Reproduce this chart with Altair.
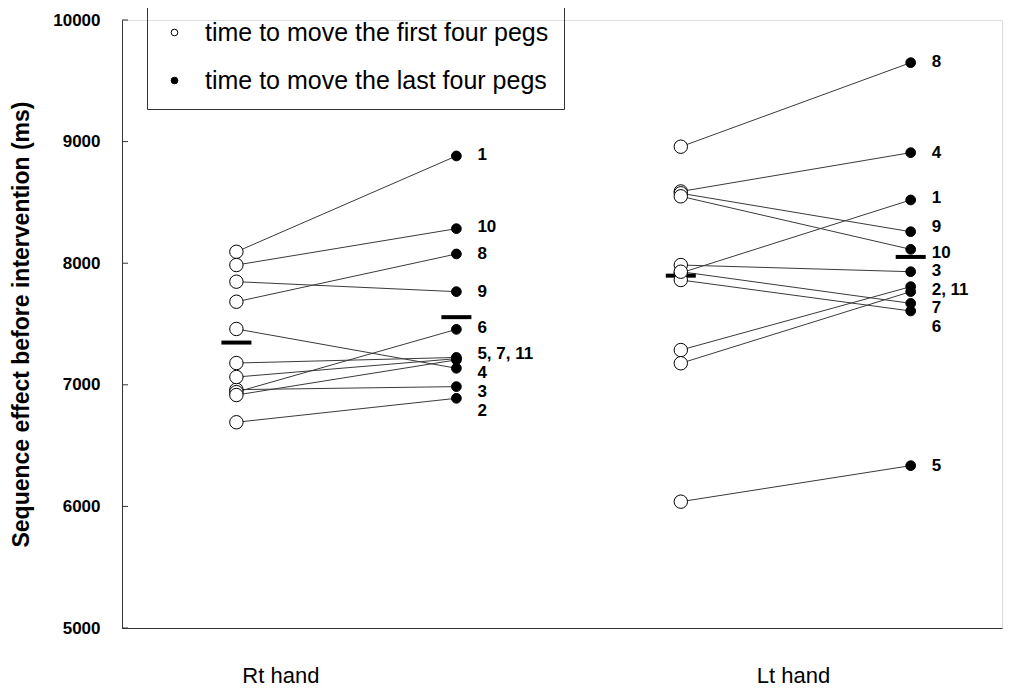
import altair as alt
import pandas as pd

# ---- data ----
subjects = ["1", "2", "3", "4", "5", "6", "7", "8", "9", "10", "11"]
rt_first = [8094, 6692, 6960, 7459, 7179, 6940, 7064, 7683, 7848, 7985, 6916]
rt_last = [8882, 6889, 6985, 7136, 7225, 7456, 7215, 8076, 7766, 8284, 7205]
lt_first = [7920, 7286, 7985, 8590, 6039, 7862, 7930, 8958, 8575, 8550, 7177]
lt_last = [8520, 7807, 7930, 8909, 6335, 7607, 7670, 9649, 8259, 8114, 7766]

# condition positions along the x scale
conditions = ["Rt first", "Rt last", "Lt first", "Lt last"]
cond_x = [1.0, 2.0, 3.02, 4.065]
hand_labels = ["Rt hand", "Lt hand"]
hand_x = [1.2, 3.53]

# point labels (text, value where it sits)
rt_label_text = ["1", "10", "8", "9", "6", "5, 7, 11", "4", "3", "2"]
rt_label_y = [8890, 8300, 8076, 7766, 7465, 7253, 7095, 6938, 6783]
lt_label_text = ["8", "4", "1", "9", "10", "3", "2, 11", "7", "6", "5"]
lt_label_y = [9657, 8904, 8534, 8300, 8085, 7932, 7780, 7630, 7475, 6335]

y_ticks = [5000, 6000, 7000, 8000, 9000, 10000]
legend_names = ["time to move the first four pegs", "time to move the last four pegs"]

FONT = "Liberation Sans"

# ---- tables ----
rows = []
for i, s in enumerate(subjects):
    rows.append(dict(subject="R" + s, cond="Rt first", x=cond_x[0], v=rt_first[i], kind=legend_names[0]))
    rows.append(dict(subject="R" + s, cond="Rt last", x=cond_x[1], v=rt_last[i], kind=legend_names[1]))
    rows.append(dict(subject="L" + s, cond="Lt first", x=cond_x[2], v=lt_first[i], kind=legend_names[0]))
    rows.append(dict(subject="L" + s, cond="Lt last", x=cond_x[3], v=lt_last[i], kind=legend_names[1]))
df = pd.DataFrame(rows)

lab = pd.DataFrame(
    [dict(t=t, v=v, x=cond_x[1]) for t, v in zip(rt_label_text, rt_label_y)]
    + [dict(t=t, v=v, x=cond_x[3]) for t, v in zip(lt_label_text, lt_label_y)]
)
ticks = pd.DataFrame(dict(v=y_ticks))

xscale = alt.Scale(domain=[0.48, 4.48], nice=False, zero=False)
yscale = alt.Scale(domain=[5000, 10000], nice=False, zero=False)

X = alt.X("x:Q", scale=xscale, axis=alt.Axis(
    values=hand_x, title=None, tickSize=0, grid=False, domainColor="#333333",
    labelExpr="datum.value < 2 ? 'Rt hand' : 'Lt hand'",
    labelFont=FONT, labelFontSize=22, labelColor="black", labelPadding=37))
Y = alt.Y("v:Q", scale=yscale, axis=alt.Axis(
    values=y_ticks, format="d", tickSize=0, grid=False, domainColor="#333333",
    labelFont=FONT, labelFontSize=17, labelFontWeight="bold", labelColor="black",
    labelPadding=22, title="Sequence effect before intervention (ms)",
    titleFont=FONT, titleFontSize=23, titleFontWeight="bold", titleColor="black",
    titlePadding=19))

base = alt.Chart(df)

lines = base.mark_line(color="#3a3a3a", strokeWidth=1).encode(
    x=X, y=Y, detail="subject:N", order="x:Q")

points_open = base.transform_filter(alt.datum.kind == legend_names[0]).mark_point(
    shape="circle", filled=True, size=180, stroke="black", strokeWidth=1, opacity=1
).encode(
    x="x:Q", y="v:Q",
    fill=alt.Fill("kind:N", scale=alt.Scale(domain=legend_names, range=["white", "black"]),
                  legend=alt.Legend(title=None, orient="none", legendX=25, legendY=-15,
                                    strokeColor="#333333", padding=15, rowPadding=22,
                                    symbolSize=45, symbolStrokeWidth=1, symbolStrokeColor="black",
                                    symbolOpacity=1, labelLimit=0,
                                    labelFont=FONT, labelFontSize=25, labelColor="black",
                                    labelOffset=18, symbolType="circle")))

points_filled = base.transform_filter(alt.datum.kind == legend_names[1]).mark_point(
    shape="circle", filled=True, size=95, stroke="black", strokeWidth=1, opacity=1
).encode(x="x:Q", y="v:Q", fill=alt.Fill("kind:N"))

means = base.mark_tick(color="black", orient="horizontal", size=30, thickness=4, opacity=1).encode(
    x="x:Q", y=alt.Y("mean(v):Q"), detail="cond:N")

labels = alt.Chart(lab).mark_text(
    align="left", baseline="middle", dx=21, font=FONT, fontSize=17, fontWeight="bold", color="black"
).encode(x="x:Q", y="v:Q", text="t:N")

yticks = alt.Chart(ticks).mark_tick(orient="horizontal", color="#333333", size=6, thickness=1,
                                    opacity=1).encode(y="v:Q", x=alt.value(3))

chart = alt.layer(lines, means, points_open, points_filled, labels, yticks).properties(
    width=880, height=608,
    autosize=alt.AutoSizeParams(type="none"),
    padding={"left": 114, "top": 12, "right": 9, "bottom": 60},
).configure_view(stroke=None).configure(background="white")

chart.save("out.html", embed_options={"renderer": "svg", "actions": False})
